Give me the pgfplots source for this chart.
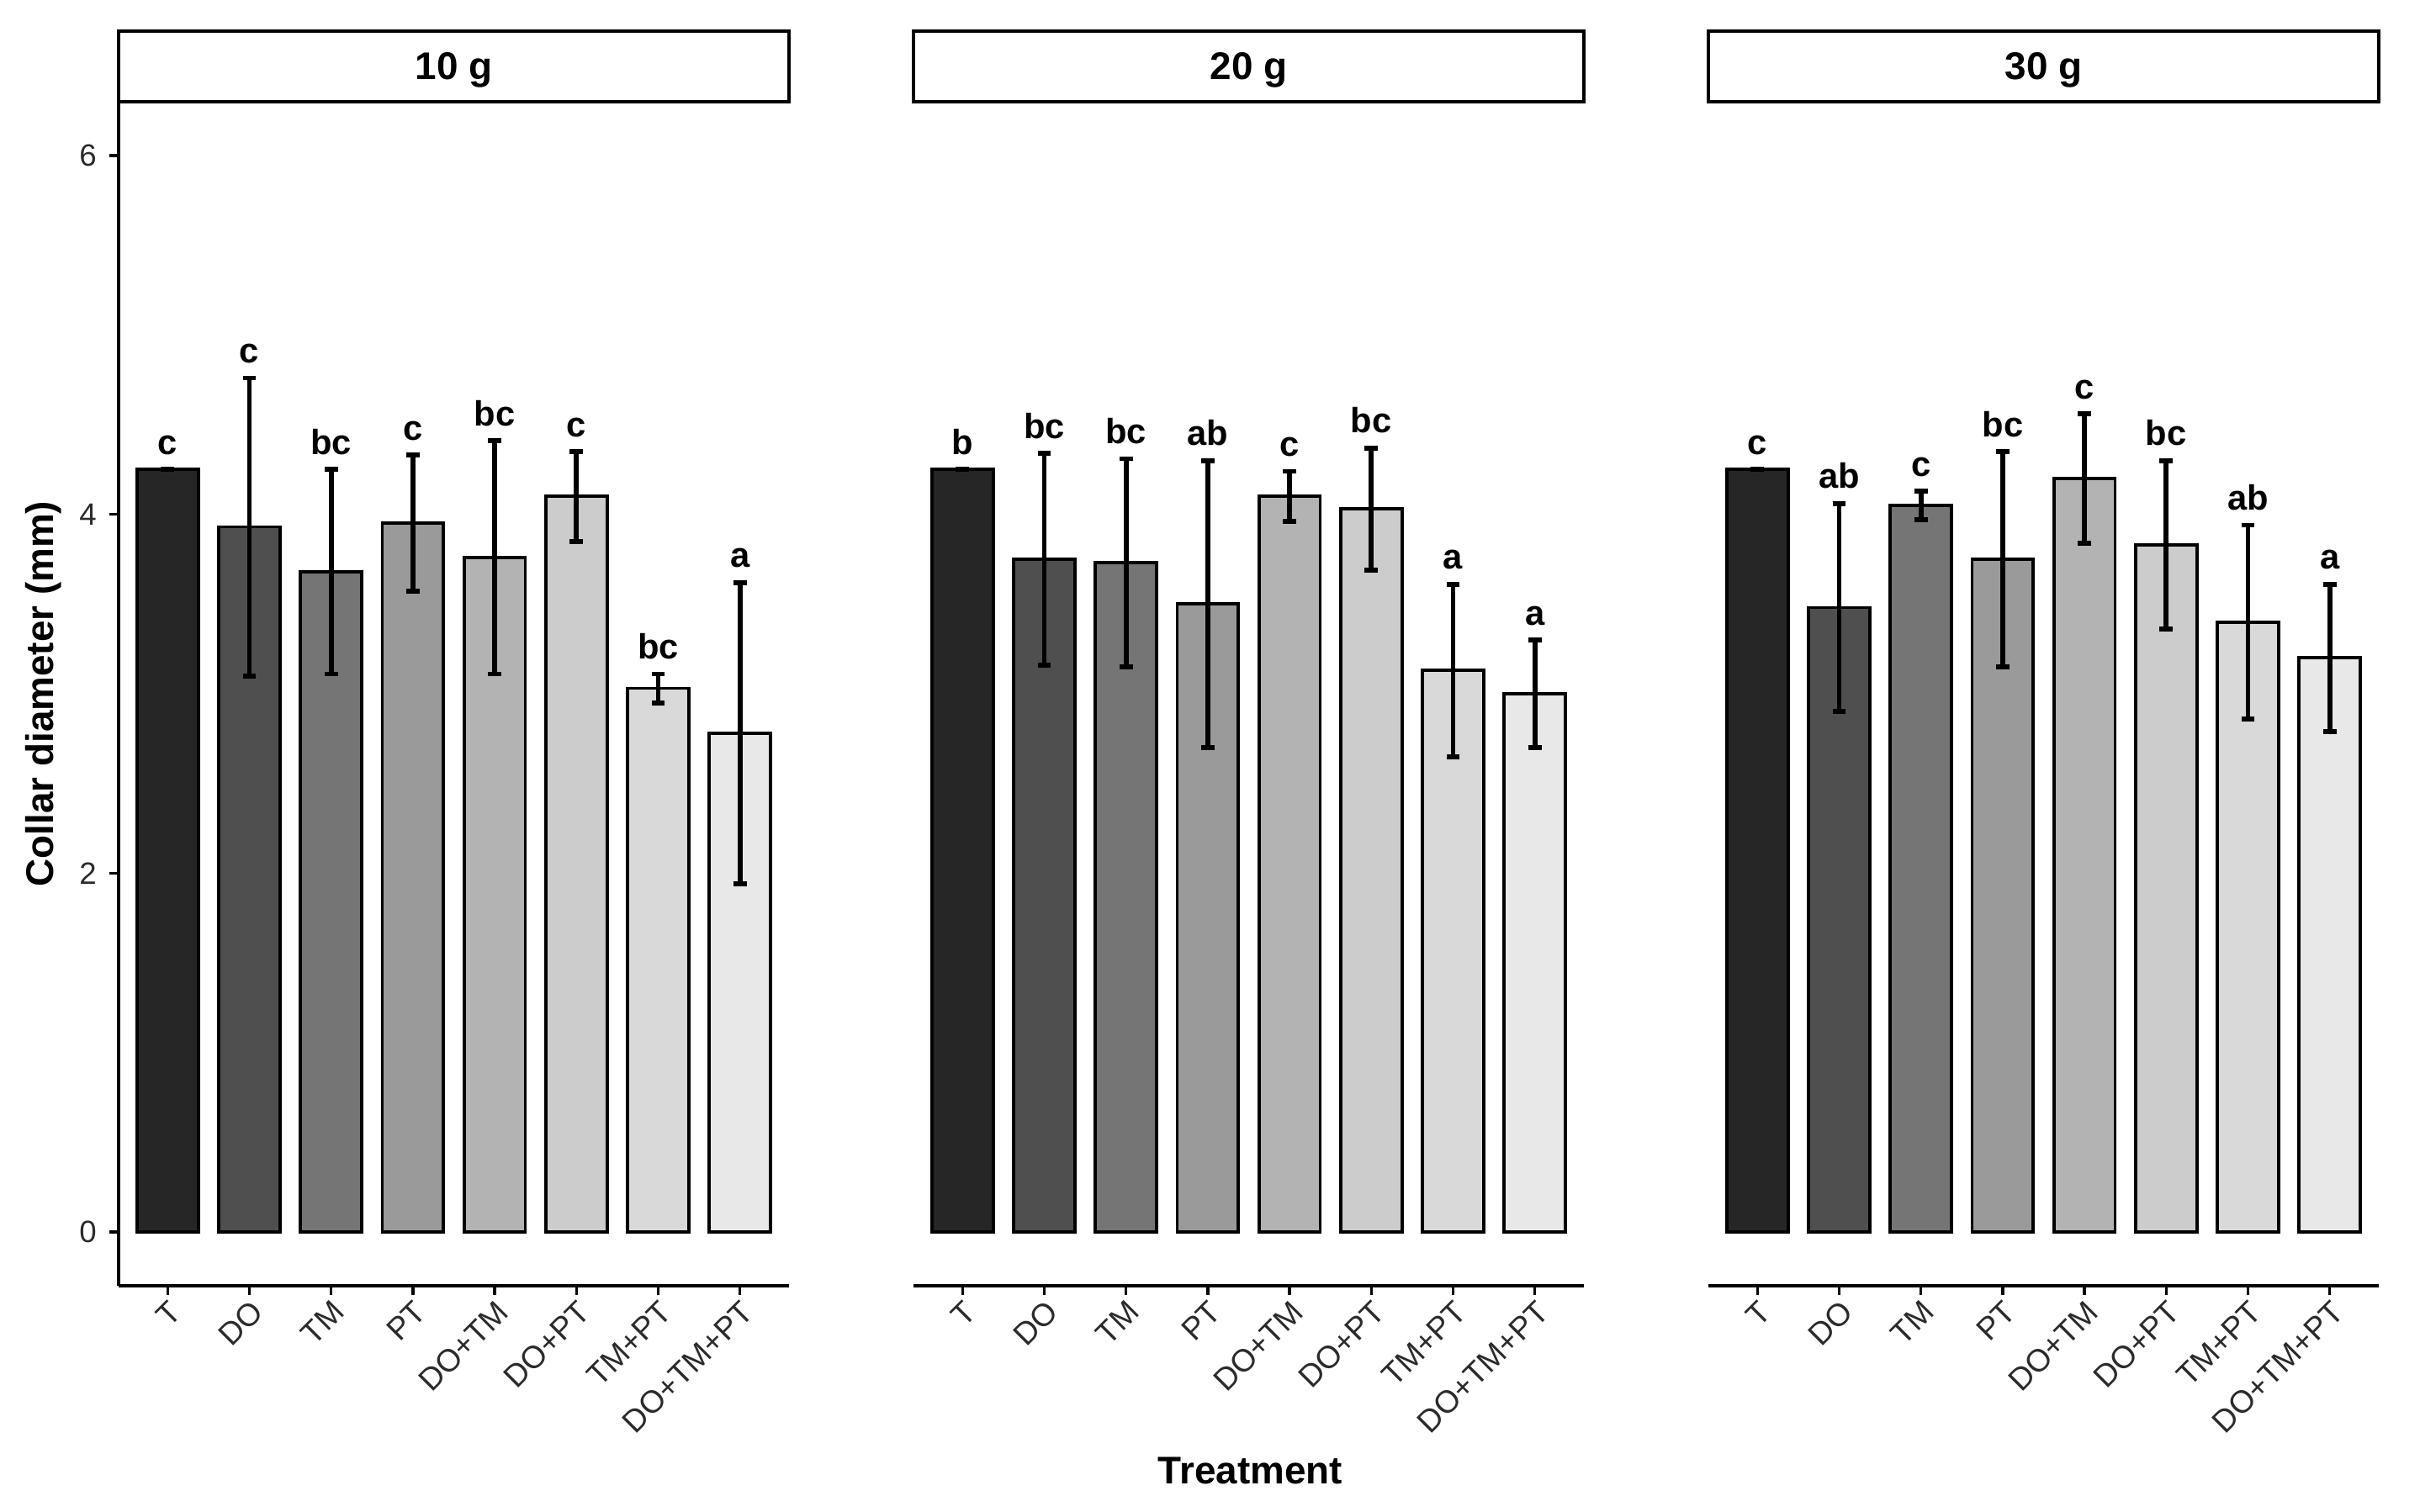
\documentclass[border=0pt]{standalone}
\usepackage{fontspec}
\setmainfont{Liberation Sans}
\usepackage{pgfplots}
\usepackage{pgfplotstable}
\pgfplotsset{compat=1.18}

\definecolor{bar0}{HTML}{262626}
\definecolor{bar1}{HTML}{4F4F4F}
\definecolor{bar2}{HTML}{757575}
\definecolor{bar3}{HTML}{9A9A9A}
\definecolor{bar4}{HTML}{B3B3B3}
\definecolor{bar5}{HTML}{CCCCCC}
\definecolor{bar6}{HTML}{D9D9D9}
\definecolor{bar7}{HTML}{E8E8E8}
\definecolor{ticktext}{HTML}{2B2B2B}

% mean, standard deviation and significance letter per treatment
\pgfplotstableread{
x m s lab
0 4.25 0.00 c
1 3.93 0.83 c
2 3.68 0.57 bc
3 3.95 0.38 c
4 3.76 0.65 bc
5 4.10 0.25 c
6 3.03 0.08 bc
7 2.78 0.84 a
}\tabA
\pgfplotstableread{
x m s lab
0 4.25 0.00 b
1 3.75 0.59 bc
2 3.73 0.58 bc
3 3.50 0.80 ab
4 4.10 0.14 c
5 4.03 0.34 bc
6 3.13 0.48 a
7 3.00 0.30 a
}\tabB
\pgfplotstableread{
x m s lab
0 4.25 0.00 c
1 3.48 0.58 ab
2 4.05 0.08 c
3 3.75 0.60 bc
4 4.20 0.36 c
5 3.83 0.47 bc
6 3.40 0.54 ab
7 3.20 0.41 a
}\tabC

\pgfplotsset{
  panel/.style={
    scale only axis,
    width=191.28pt, height=337.92pt,
    anchor=south west,
    xmin=-0.6, xmax=7.6,
    ymin=-0.3, ymax=6.3,
    axis x line*=bottom,
    axis line style={-, line width=0.95pt, black},
    tick align=outside,
    major tick length=2.75pt,
    tick style={line width=0.8pt, black},
    xtick={0,...,7},
    xticklabels={T,DO,TM,PT,DO+TM,DO+PT,TM+PT,DO+TM+PT},
    x tick label style={rotate=45, anchor=north east, inner sep=0.5pt,
      font=\fontsize{9}{10}\selectfont, text=ticktext},
    y tick label style={font=\fontsize{8.8}{10}\selectfont, text=ticktext},
    /pgf/number format/assume math mode=true,
    clip=false,
  },
  barstyle/.style={
    ybar, bar shift=0pt, bar width=0.75,
    draw=black, line width=0.9pt,
    error bars/y dir=both, error bars/y explicit,
    error bars/error mark=-,
    error bars/error bar style={line width=1.4pt, black},
    error bars/error mark options={rotate=90, line width=1.4pt, mark size=1.9pt, black},
  },
  letters/.style={
    draw=none, mark=none,
    nodes near coords,
    point meta=explicit symbolic,
    every node near coord/.append style={anchor=south, inner sep=0pt,
      yshift=4pt, font=\bfseries\fontsize{10}{12}\selectfont, black},
  },
}

\newcommand{\drawpanel}[2]{%
  \pgfplotsinvokeforeach{0,...,7}{%
    \addplot[barstyle, fill=bar##1, restrict x to domain=##1:##1]
      table[x=x, y=m, y error=s] {#1};
  }
  \addplot[letters] table[x=x, y expr=\thisrow{m}+\thisrow{s}, meta=lab] {#1};
  \draw[line width=0.9pt] (rel axis cs:0,1) rectangle ([yshift=20.2pt]rel axis cs:1,1);
  \node[font=\bfseries\fontsize{11}{13}\selectfont] at ([yshift=9pt]rel axis cs:0.5,1) {#2};
}

\begin{document}
\begin{tikzpicture}
\useasboundingbox (0,0) rectangle (690.48pt,431.28pt);

\begin{axis}[panel, at={(33.84pt,64.32pt)},
  axis y line*=left, ytick={0,2,4,6}]
  \drawpanel{\tabA}{10 g}
\end{axis}

\begin{axis}[panel, at={(260.64pt,64.32pt)},
  axis y line=none, ytick=\empty]
  \drawpanel{\tabB}{20 g}
\end{axis}

\begin{axis}[panel, at={(487.44pt,64.32pt)},
  axis y line=none, ytick=\empty]
  \drawpanel{\tabC}{30 g}
\end{axis}

\node[rotate=90, font=\bfseries\fontsize{11}{13}\selectfont] at (12.3pt,233.3pt) {Collar diameter (mm)};
\node[font=\bfseries\fontsize{11}{13}\selectfont] at (356.7pt,11.5pt) {Treatment};
\end{tikzpicture}
\end{document}
